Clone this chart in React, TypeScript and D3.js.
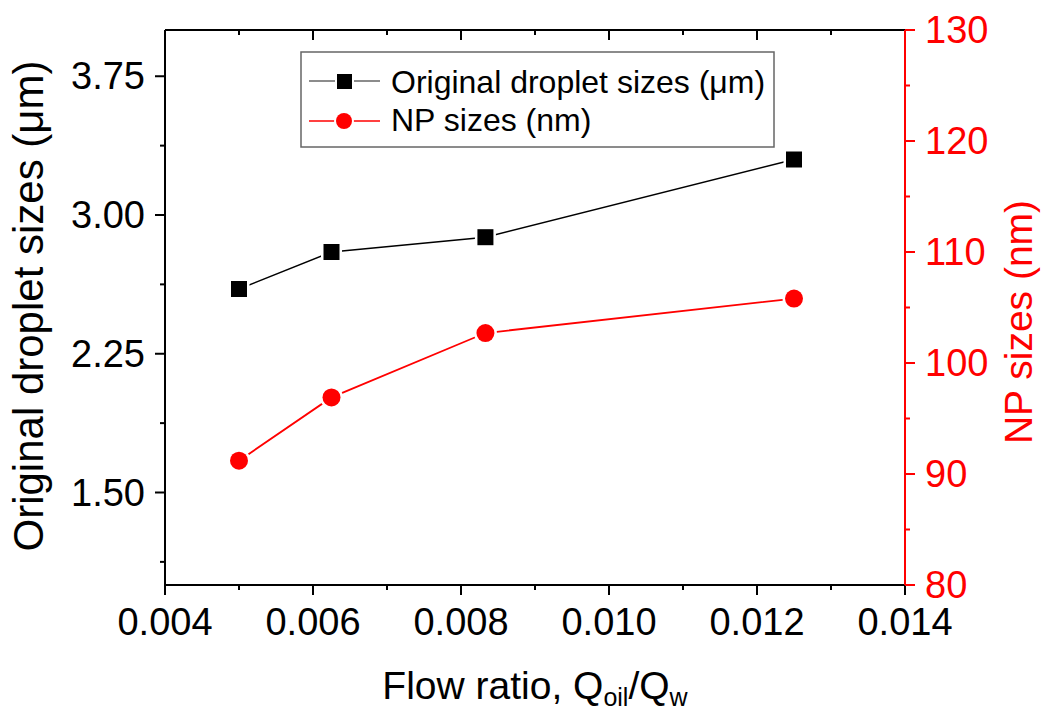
import React, { useEffect, useRef } from 'react';
import * as d3 from 'd3';

const flowRatio = [0.005, 0.00625, 0.00833, 0.0125];
const dropletSizes = [2.6, 2.8, 2.88, 3.3];
const npSizes = [91.2, 96.9, 102.7, 105.8];
const leftTicks = [1.5, 2.25, 3.0, 3.75];
const leftMinor = [1.125, 1.875, 2.625, 3.375];
const rightTicks = [80, 90, 100, 110, 120, 130];
const rightMinor = [85, 95, 105, 115, 125];
const xTicks = [0.004, 0.006, 0.008, 0.01, 0.012, 0.014];
const xMinor = [0.005, 0.007, 0.009, 0.011, 0.013];

const App = () => {
  const ref = useRef<SVGSVGElement>(null);

  useEffect(() => {
    const svg = d3.select(ref.current);
    svg.selectAll('*').remove();
    const font = 'Liberation Sans, Arial, sans-serif';

    const left = 165, right = 905, top = 30, bottom = 585;
    const x = d3.scaleLinear().domain([0.004, 0.014]).range([left, right]);
    const yL = d3.scaleLinear().domain([1.0, 4.0]).range([bottom, top]);
    const yR = d3.scaleLinear().domain([80, 130]).range([bottom, top]);

    const g = svg.append('g');

    // frame
    g.append('line').attr('x1', left).attr('x2', right).attr('y1', top).attr('y2', top)
      .attr('stroke', '#000').attr('stroke-width', 2);
    g.append('line').attr('x1', left).attr('x2', right).attr('y1', bottom).attr('y2', bottom)
      .attr('stroke', '#000').attr('stroke-width', 2);
    g.append('line').attr('x1', left).attr('x2', left).attr('y1', top).attr('y2', bottom)
      .attr('stroke', '#000').attr('stroke-width', 2);
    g.append('line').attr('x1', right).attr('x2', right).attr('y1', top).attr('y2', bottom + 1)
      .attr('stroke', 'red').attr('stroke-width', 2);

    const tick = (x1, y1, x2, y2, c = '#000') =>
      g.append('line').attr('x1', x1).attr('y1', y1).attr('x2', x2).attr('y2', y2)
        .attr('stroke', c).attr('stroke-width', 2);

    // x ticks: bottom outward, top inward
    xTicks.forEach(v => {
      tick(x(v), bottom, x(v), bottom + 10);
      if (v > 0.004 && v < 0.014) tick(x(v), top, x(v), top + 10);
      g.append('text').attr('x', x(v)).attr('y', bottom + 50).attr('text-anchor', 'middle')
        .attr('font-family', font).attr('font-size', 38).text(d3.format('.3f')(v));
    });
    xMinor.forEach(v => {
      tick(x(v), bottom, x(v), bottom + 5);
      tick(x(v), top, x(v), top + 5);
    });

    leftTicks.forEach(v => {
      tick(left, yL(v), left - 10, yL(v));
      g.append('text').attr('x', left - 20).attr('y', yL(v) + 13).attr('text-anchor', 'end')
        .attr('font-family', font).attr('font-size', 38).text(d3.format('.2f')(v));
    });
    leftMinor.forEach(v => tick(left, yL(v), left - 5, yL(v)));

    rightTicks.forEach(v => {
      tick(right, yR(v), right + 10, yR(v), 'red');
      g.append('text').attr('x', right + 20).attr('y', yR(v) + 13).attr('text-anchor', 'start')
        .attr('fill', 'red').attr('font-family', font).attr('font-size', 38).text(v);
    });
    rightMinor.forEach(v => tick(right, yR(v), right + 5, yR(v), 'red'));

    // axis titles
    const xt = g.append('text').attr('x', 535).attr('y', 699).attr('text-anchor', 'middle')
      .attr('font-family', font).attr('font-size', 39);
    xt.append('tspan').text('Flow ratio, Q');
    xt.append('tspan').attr('font-size', 25).attr('dy', 7).text('oil');
    xt.append('tspan').attr('dy', -7).text('/Q');
    xt.append('tspan').attr('font-size', 25).attr('dy', 7).text('w');

    g.append('text').attr('transform', `translate(43,306) rotate(-90)`)
      .attr('text-anchor', 'middle').attr('font-family', font).attr('font-size', 42)
      .text('Original droplet sizes (μm)');
    g.append('text').attr('transform', `translate(1032,322) rotate(-90)`)
      .attr('text-anchor', 'middle').attr('fill', 'red').attr('font-family', font).attr('font-size', 39)
      .text('NP sizes (nm)');

    // series
    const pts1 = flowRatio.map((f, i) => [f, dropletSizes[i]]);
    const pts2 = flowRatio.map((f, i) => [f, npSizes[i]]);
    g.append('path').datum(pts1)
      .attr('d', d3.line().x(d => x(d[0])).y(d => yL(d[1])))
      .attr('fill', 'none').attr('stroke', '#000').attr('stroke-width', 1.5);
    g.append('path').datum(pts2)
      .attr('d', d3.line().x(d => x(d[0])).y(d => yR(d[1])))
      .attr('fill', 'none').attr('stroke', 'red').attr('stroke-width', 1.8);

    g.selectAll('.sq').data(pts1).enter().append('rect')
      .attr('x', d => x(d[0]) - 8).attr('y', d => yL(d[1]) - 8)
      .attr('width', 16).attr('height', 16).attr('fill', '#000')
      .attr('stroke', '#fff').attr('stroke-width', 5).attr('paint-order', 'stroke');
    g.selectAll('.ci').data(pts2).enter().append('circle')
      .attr('cx', d => x(d[0])).attr('cy', d => yR(d[1])).attr('r', 9)
      .attr('fill', 'red').attr('stroke', '#fff').attr('stroke-width', 5).attr('paint-order', 'stroke');

    // legend
    const lg = g.append('g');
    lg.append('rect').attr('x', 301).attr('y', 52).attr('width', 473).attr('height', 95)
      .attr('fill', '#fff').attr('stroke', '#666').attr('stroke-width', 1.5);
    lg.append('line').attr('x1', 309).attr('x2', 380).attr('y1', 81).attr('y2', 81)
      .attr('stroke', '#666').attr('stroke-width', 1.5);
    lg.append('rect').attr('x', 337).attr('y', 74).attr('width', 15).attr('height', 15)
      .attr('fill', '#000').attr('stroke', '#fff').attr('stroke-width', 4).attr('paint-order', 'stroke');
    lg.append('line').attr('x1', 309).attr('x2', 380).attr('y1', 121).attr('y2', 121)
      .attr('stroke', 'red').attr('stroke-width', 1.5);
    lg.append('circle').attr('cx', 344).attr('cy', 121).attr('r', 8)
      .attr('fill', 'red').attr('stroke', '#fff').attr('stroke-width', 4).attr('paint-order', 'stroke');
    lg.append('text').attr('x', 391).attr('y', 93).attr('font-family', font).attr('font-size', 32)
      .text('Original droplet sizes (μm)');
    lg.append('text').attr('x', 391).attr('y', 131).attr('font-family', font).attr('font-size', 32)
      .text('NP sizes (nm)');
  }, []);

  return (
    <svg ref={ref} width={1042} height={711}
      style={{ position: 'absolute', left: 0, top: 0, background: '#fff' }} />
  );
};

export default App;
